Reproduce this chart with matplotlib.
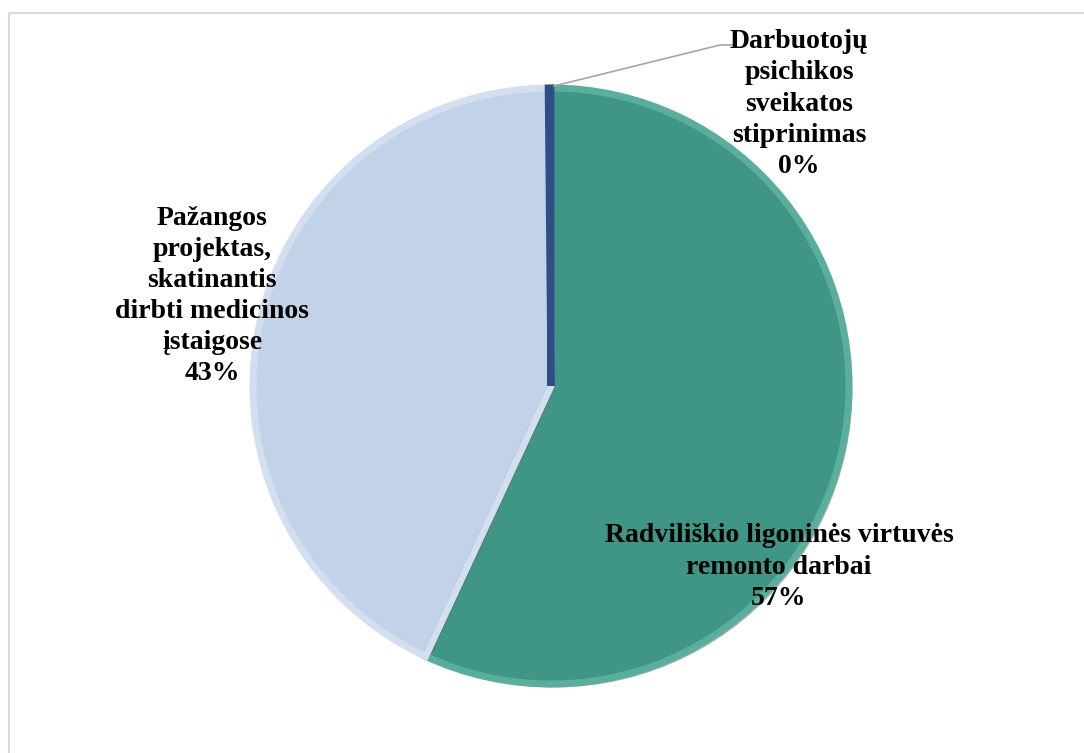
import matplotlib
matplotlib.use("Agg")
import matplotlib.pyplot as plt
import matplotlib.patheffects as pe
from matplotlib.lines import Line2D

categories = [
    "Radviliškio ligoninės virtuvės\nremonto darbai",
    "Pažangos\nprojektas,\nskatinantis\ndirbti medicinos\nįstaigose",
    "Darbuotojų\npsichikos\nsveikatos\nstiprinimas",
]
values = [57.0, 43.0, 0.15]
colors = ["#3f9686", "#c2d2e9", "#1f3a6e"]
highlight = ["#5aae9b", "#d3def0", "#2f4d86"]

W, H = 1084, 753
fig = plt.figure(figsize=(W / 100, H / 100), dpi=100)
ax = fig.add_axes([0, 0, 1, 1])

cx, cy, r = 551, H - 386, 298

wedges, _ = ax.pie(values, colors=colors, startangle=90, counterclock=False,
                   center=(cx, cy), radius=r, frame=True,
                   wedgeprops=dict(edgecolor="#7a7a7a", linewidth=0.8))
for w in wedges:
    w.set_path_effects([pe.SimplePatchShadow(offset=(2.5, -2.5), shadow_rgbFace="#666666", alpha=0.5),
                        pe.Normal()])
# bevel highlight (inner light band clipped to each wedge)
wedges2, _ = ax.pie(values, colors=colors, startangle=90, counterclock=False,
                    center=(cx, cy), radius=r, frame=True,
                    wedgeprops=dict(linewidth=5))
for w2, w, hc in zip(wedges2, wedges, highlight):
    w2.set_facecolor("none")
    w2.set_edgecolor(hc)
    w2.set_clip_path(w)
ax.set_xlim(0, W)
ax.set_ylim(0, H)
ax.set_aspect("equal")
ax.axis("off")

total = sum(values)
pcts = [f"{round(v / total * 100):.0f}%" for v in values]

font = dict(family=["Liberation Serif", "DejaVu Serif"], fontweight="bold", fontsize=20,
            color="black", ha="center", va="center", linespacing=1.32)

# label positions (pixel coords from top)
ax.text(779, H - 567, categories[0] + "\n" + pcts[0], **font)
ax.text(212, H - 296, categories[1] + "\n" + pcts[1], **font)
ax.text(799, H - 104, categories[2] + "\n" + pcts[2], **font)

# leader line for small slice
ax.add_line(Line2D([554, 720, 733], [H - 86, H - 45, H - 45], color="#a6a6a6", linewidth=1.2))

# chart border (top & left visible)
ax.add_line(Line2D([8.5, 8.5, W], [0, H - 12.5, H - 12.5], color="#d9d9d9", linewidth=1.5))

fig.savefig("out.png", dpi=100)
